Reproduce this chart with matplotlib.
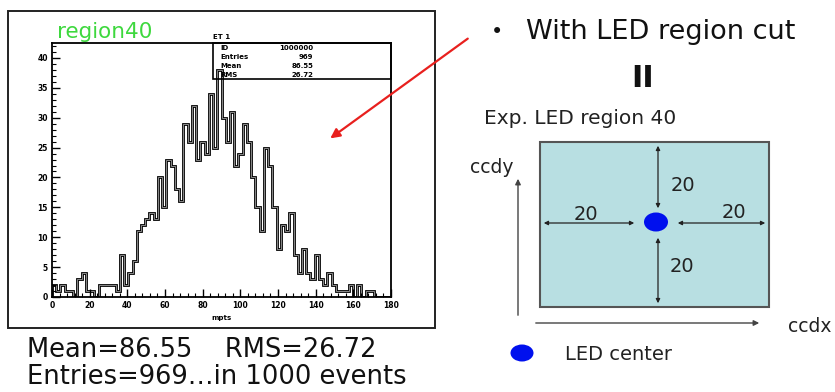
import numpy as np
import matplotlib.pyplot as plt
from matplotlib.patches import Rectangle, Ellipse, FancyArrowPatch
from matplotlib.ticker import MultipleLocator

plt.rcParams['font.family'] = ['DejaVu Sans']

# histogram "region40": bin contents, 80 bins of 2.25 starting at 0
bin_start = 0.0
bin_width = 2.25
counts = [2, 1, 2, 1, 1, 0, 3, 4, 1, 1, 0, 2, 2, 2, 2, 1,
          7, 2, 4, 6, 11, 12, 13, 14, 13, 20, 15, 23, 22, 18, 16,
          29, 26, 32, 23, 26, 24, 34, 25, 38, 30, 26, 31, 22, 24, 29, 26, 20, 15, 11,
          25, 22, 15, 8, 12, 11, 14, 7, 4, 8, 4, 3, 7, 3, 2, 4, 2, 1, 1, 1, 2, 0, 2, 0, 1, 1,
          0, 0, 0, 0]
stat_names = ['ID', 'Entries', 'Mean', 'RMS']
stat_values = ['1000000', '969', '86.55', '26.72']
summary = ['Mean=86.55    RMS=26.72', 'Entries=969\u2026in 1000 events']
offsets = ['20', '20', '20', '20']

W, H = 835, 392
fig = plt.figure(figsize=(W / 100, H / 100), dpi=100)


def px(x0, y0, x1, y1):
    # figure fraction rect from pixel box (top-left origin)
    return [x0 / W, 1 - y1 / H, (x1 - x0) / W, (y1 - y0) / H]


# ---- histogram panel
ax = fig.add_axes(px(52, 43, 391, 297))
edges = bin_start + bin_width * np.arange(len(counts) + 1)
ax.stairs(counts, edges, color='black', lw=2.0)
ax.stairs(counts, edges, color='#8a8a8a', lw=0.7)
ax.set_xlim(0, 180)
ax.set_ylim(0, 42.5)
ax.xaxis.set_major_locator(MultipleLocator(20))
ax.xaxis.set_minor_locator(MultipleLocator(4))
ax.yaxis.set_major_locator(MultipleLocator(5))
ax.yaxis.set_minor_locator(MultipleLocator(1))
ax.tick_params(which='major', direction='in', length=6, width=1.0, labelsize=5.5, pad=3)
ax.tick_params(which='minor', direction='in', length=3, width=0.8)
for lab in ax.get_xticklabels() + ax.get_yticklabels():
    lab.set_fontweight('bold')
for sp in ax.spines.values():
    sp.set_linewidth(1.3)

# stats box
sx = (213 - 52) / 339
sy = (297 - 79) / 254
ax.add_patch(Rectangle((sx, sy), 1 - sx, 1 - sy, transform=ax.transAxes,
                       fill=False, ec='black', lw=1.2, clip_on=False))
ax.text(sx, 1.01, 'ET 1', transform=ax.transAxes, fontsize=5,
        fontweight='bold', va='bottom')
row_y = [0.980, 0.945, 0.909, 0.874]
for name, val, yy in zip(stat_names, stat_values, row_y):
    ax.text(0.496, yy, name, transform=ax.transAxes, fontsize=5,
            fontweight='bold', va='center')
    ax.text(0.77, yy, val, transform=ax.transAxes, fontsize=5,
            fontweight='bold', va='center', ha='right')

# ---- overlay for slide drawing
ov = fig.add_axes([0, 0, 1, 1])
ov.set_xlim(0, W)
ov.set_ylim(H, 0)
ov.axis('off')
ov.patch.set_alpha(0)

ov.add_patch(Rectangle((8, 11), 427, 317, fill=False, ec='#222222', lw=1.4))
ov.text(57, 32, 'region40', color='#3ed83e', fontsize=15.5, va='center')
ov.text(222, 318, 'mpts', fontsize=5, fontweight='bold', ha='center', va='center')

for i, line in enumerate(summary):
    ov.text(27, 350 + i * 27, line, fontsize=18.5, va='center', color='#111111')

# red arrow
ov.add_patch(FancyArrowPatch((470, 37), (328, 140), arrowstyle='-|>',
                             mutation_scale=14, color='#e8201e', lw=1.6))

# right side text
ov.text(497, 32, '\u2022', fontsize=15, va='center', ha='center', color='#111111')
ov.text(526, 32, 'With LED region cut', fontsize=19.5, va='center', color='#111111')
ov.text(643, 78, 'II', fontsize=22, fontweight='bold', va='center', ha='center',
        color='#111111')
ov.text(484, 118, 'Exp. LED region 40', fontsize=14.5, va='center', color='#222222')

# LED region box
ov.add_patch(Rectangle((540, 142), 229, 165, fc='#b8dfe2', ec='#555555', lw=1.5))
cx, cy = 656, 222
ov.add_patch(Ellipse((cx, cy), 24, 19, fc='#0010ee', ec='none'))
arrows = [((658, 143), (658, 211)), ((658, 235), (658, 306)),
          ((541, 223), (637, 223)), ((675, 223), (768, 223))]
for a, b in arrows:
    ov.add_patch(FancyArrowPatch(a, b, arrowstyle='<|-|>', mutation_scale=6,
                                 color='#222222', lw=0.9))
label_pos = [(683, 185), (586, 214), (734, 212), (682, 266)]
for t, (lx, ly) in zip(offsets, label_pos):
    ov.text(lx, ly, t, fontsize=14, ha='center', va='center', color='#222222')

# ccd axes
ov.add_patch(FancyArrowPatch((518, 318), (518, 176), arrowstyle='-|>',
                             mutation_scale=8, color='#444444', lw=1.0))
ov.add_patch(FancyArrowPatch((533, 323), (762, 323), arrowstyle='-|>',
                             mutation_scale=8, color='#444444', lw=1.0))
ov.text(492, 167, 'ccdy', fontsize=13.5, ha='center', va='center', color='#222222')
ov.text(810, 327, 'ccdx', fontsize=13.5, ha='center', va='center', color='#222222')

# legend
ov.add_patch(Ellipse((522, 353), 23, 17, fc='#0010ee', ec='none'))
ov.text(565, 354, 'LED center', fontsize=14, va='center', color='#222222')

fig.savefig('out.png', dpi=100)
